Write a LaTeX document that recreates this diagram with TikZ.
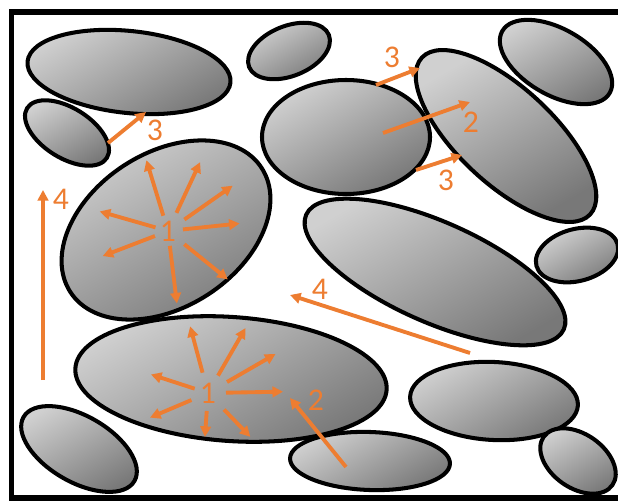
\documentclass[tikz,border=0pt]{standalone}
\usepackage{fontspec}
\setmainfont{Carlito}
\usetikzlibrary{arrows.meta}
\definecolor{flow}{RGB}{237,125,49}
\definecolor{grainlight}{RGB}{208,208,208}
\definecolor{graindark}{RGB}{120,120,120}

\tikzset{
  grain/.style={draw=black, line width=2.3pt, top color=grainlight,
                bottom color=graindark, shading angle=30},
  flowarrow/.style={draw=flow, line width=2.2pt,
                    -{Triangle[length=6pt,width=6pt]}},
  flowlabel/.style={text=flow, font=\fontsize{18}{18}\selectfont, inner sep=0pt}
}

\begin{document}
\begin{tikzpicture}[x=0.02cm, y=-0.02cm]
\useasboundingbox (0,0) rectangle (618,500);
\clip (0,0) rectangle (618,500);

% outer frame
\draw[line width=3.4pt] (11.5,12) rectangle (650,498);

% grains: centre x / centre y / half axes / tilt
\foreach \cx/\cy/\rx/\ry/\tilt in {
    129/72/102/41/-6,  67/133/47/25/-32,  289/51/43/25/22,
    346/137/84/57/0,   506/136/115/48/-43, 556/62/62/33/-30,
    166/230/114/77/33, 435/272/141/50/-24, 577/255/42/26/15,
    231/379/156/62/-4, 494/401/84/39/-3,  79/449/64/33/-30,
    370/461/80/29/-2,  578/461/42/27/-35}
  \path[grain, rotate around={\tilt:(\cx,\cy)}] (\cx,\cy) ellipse ({\rx} and {\ry});

% radiating arrows (1)
\node[flowlabel] (core1) at (168,231) {1};
\foreach \a/\ri/\ro in {-107/16/74, -65/20/76, -35/20/79, -6/15/72,
                        196/13/71, 159/14/70, 83/15/73, 39/21/77}
  \draw[flowarrow] ([shift={(\a:\ri)}]core1.center) -- ([shift={(\a:\ro)}]core1.center);

\node[flowlabel] (core2) at (208,393) {1};
\foreach \a/\ri/\ro in {-105/21/69, -60/20/75, -30/22/78, -1/18/75,
                        198/14/60, 157/18/63, 94/18/44, 46/23/61}
  \draw[flowarrow] ([shift={(\a:\ri)}]core2.center) -- ([shift={(\a:\ro)}]core2.center);

% single arrows
\coordinate (s3a) at (108,143);  \coordinate (e3a) at (146,112);
\coordinate (s3b) at (376,85);   \coordinate (e3b) at (420,68);
\coordinate (s3c) at (416,170);  \coordinate (e3c) at (462,155);
\coordinate (s2a) at (383,133);  \coordinate (e2a) at (470,102);
\coordinate (s2b) at (346,467);  \coordinate (e2b) at (290,398);
\coordinate (s4a) at (43,380);   \coordinate (e4a) at (43,190);
\coordinate (s4b) at (470,353);  \coordinate (e4b) at (290,295);

\draw[flowarrow] (s3a) -- (e3a);
\draw[flowarrow] (s3b) -- (e3b);
\draw[flowarrow] (s3c) -- (e3c);
\draw[flowarrow] (s2a) -- (e2a);
\draw[flowarrow] (s2b) -- (e2b);
\draw[flowarrow] (s4a) -- (e4a);
\draw[flowarrow] (s4b) -- (e4b);

\node[flowlabel] (lab3a) at (155,130) {3};
\node[flowlabel] (lab3b) at (392,57) {3};
\node[flowlabel] (lab3c) at (446,180) {3};
\node[flowlabel] (lab2a) at (471,122) {2};
\node[flowlabel] (lab2b) at (316,400) {2};
\node[flowlabel] (lab4a) at (61,199) {4};
\node[flowlabel] (lab4b) at (320,289) {4};
\end{tikzpicture}
\end{document}
